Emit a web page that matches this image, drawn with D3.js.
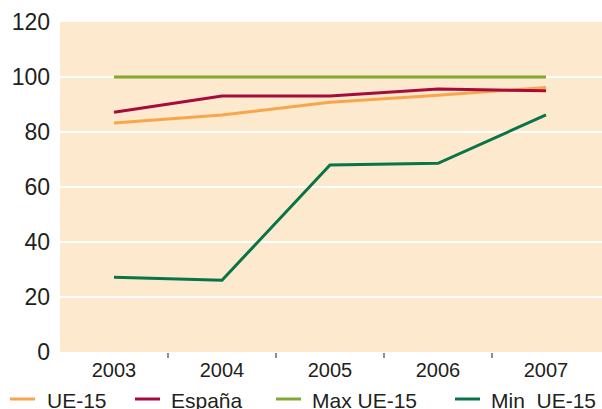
<!DOCTYPE html>
<html><head><meta charset="utf-8">
<script src="https://cdn.jsdelivr.net/npm/d3@7"></script>
<style>body{margin:0;background:#fff}svg{display:block}</style>
</head><body><svg id="c" width="602" height="409"></svg>
<script>
const years = ["2003","2004","2005","2006","2007"];
const ue15 = [83.3, 86.2, 90.8, 93.4, 96.2];
const espana = [87.2, 93.1, 93.1, 95.6, 95.0];
const maxUE15 = [100, 100, 100, 100, 100];
const minUE15 = [27.2, 26.1, 68.0, 68.6, 86.2];
const yTicks = [0, 20, 40, 60, 80, 100, 120];
const seriesNames = ["UE-15", "España", "Max UE-15", "Min  UE-15"];
const seriesColors = ["#f8a54c", "#a80a3c", "#7ea933", "#087448"];

const svg = d3.select("#c");
const m = {l: 60, r: 602, t: 22, b: 352};
const x = d3.scaleBand().domain(years).range([m.l, 600]);
const y = d3.scaleLinear().domain([0, 120]).range([m.b, m.t]);
const font = "'Liberation Sans', Arial, sans-serif";

svg.append("rect").attr("x", m.l).attr("y", m.t).attr("width", m.r - m.l).attr("height", m.b - m.t).attr("fill", "#fde9cd");

svg.append("g").selectAll("line").data(yTicks.filter(d => d > 0 && d < 120)).join("line")
  .attr("x1", m.l).attr("x2", m.r).attr("y1", d => y(d)).attr("y2", d => y(d))
  .attr("stroke", "#fff").attr("stroke-width", 2);

// y axis
const ya = svg.append("g").attr("transform", `translate(${m.l},0)`)
  .call(d3.axisLeft(y).tickValues(yTicks).tickSize(0).tickPadding(10));
ya.select(".domain").remove();
ya.selectAll("text").attr("font-family", font).attr("font-size", 23).attr("fill", "#231f20");

// x axis
const xa = svg.append("g").attr("transform", `translate(0,${m.b})`)
  .call(d3.axisBottom(x).tickSize(0).tickPadding(11));
xa.select(".domain").remove();
xa.selectAll("text").attr("font-family", font).attr("font-size", 20).attr("fill", "#231f20");
svg.append("g").selectAll("line").data(years.slice(1)).join("line")
  .attr("x1", d => x(d)).attr("x2", d => x(d)).attr("y1", m.b + 1).attr("y2", m.b + 6)
  .attr("stroke", "#444").attr("stroke-width", 1.2);

const all = [ue15, espana, maxUE15, minUE15];
const line = d3.line().x((d, i) => x(years[i]) + x.bandwidth() / 2).y(d => y(d));
const order = [2, 0, 1, 3];
order.forEach(k => {
  svg.append("path").datum(all[k]).attr("d", line).attr("fill", "none")
    .attr("stroke", seriesColors[k]).attr("stroke-width", 3);
});

// legend
const legX = [10, 135, 276, 455];
const lg = svg.append("g").selectAll("g").data(seriesNames).join("g")
  .attr("transform", (d, i) => `translate(${legX[i]},399)`);
lg.append("line").attr("x1", 0).attr("x2", 25).attr("y1", 0).attr("y2", 0)
  .attr("stroke", (d, i) => seriesColors[i]).attr("stroke-width", 3);
lg.append("text").attr("x", (d, i) => i === 0 ? 37 : 36).attr("y", 9).text(d => d)
  .attr("font-family", font).attr("font-size", 21).attr("fill", "#231f20")
  .style("white-space", "pre");
</script></body></html>
